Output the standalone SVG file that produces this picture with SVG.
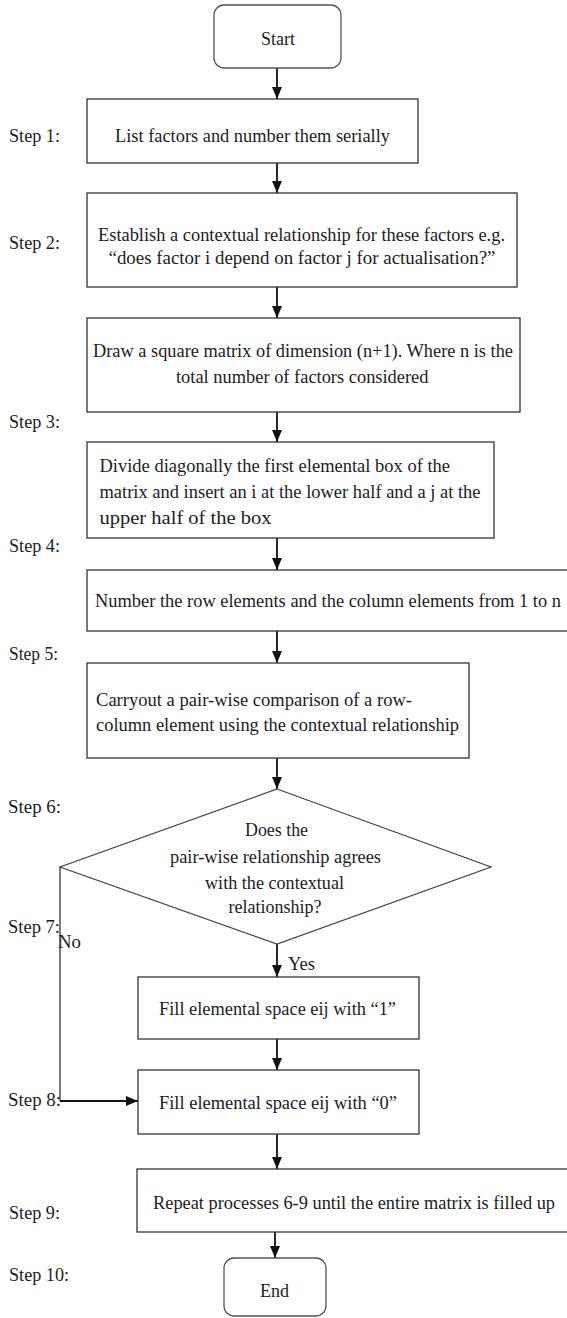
<svg xmlns="http://www.w3.org/2000/svg" width="567" height="1318" viewBox="0 0 567 1318">
  <defs>
    <marker id="arrow" viewBox="0 0 12 10" refX="12" refY="5" markerWidth="13" markerHeight="10" markerUnits="userSpaceOnUse" orient="auto">
      <path d="M0,0 L12,5 L0,10 z" fill="#111"/>
    </marker>
    <style>
      text { font-family: "Liberation Serif", "Times New Roman", serif; font-size: 19px; fill: #1c1c1c; }
      .box { fill: #fff; stroke: #333; stroke-width: 1.3; }
      .term { fill: #fff; stroke: #555; stroke-width: 1.3; }
      .dec { fill: #fff; stroke: #444; stroke-width: 1.2; }
      .flow { fill: none; stroke: #111; stroke-width: 1.8; marker-end: url(#arrow); }
      .branch { fill: none; stroke: #222; stroke-width: 1.2; }
    </style>
  </defs>
  <rect width="567" height="1318" fill="#fff"/>

  <!-- step labels on the left margin -->
  <g id="step-labels">
    <text x="9" y="142" textLength="51" lengthAdjust="spacingAndGlyphs">Step 1:</text>
    <text x="9" y="249" textLength="51" lengthAdjust="spacingAndGlyphs">Step 2:</text>
    <text x="9" y="428" textLength="51" lengthAdjust="spacingAndGlyphs">Step 3:</text>
    <text x="9" y="552" textLength="51" lengthAdjust="spacingAndGlyphs">Step 4:</text>
    <text x="9" y="660" textLength="49" lengthAdjust="spacingAndGlyphs">Step 5:</text>
    <text x="8" y="813" textLength="53" lengthAdjust="spacingAndGlyphs">Step 6:</text>
    <text x="8" y="933" textLength="52" lengthAdjust="spacingAndGlyphs">Step 7:</text>
    <text x="8" y="1106" textLength="53" lengthAdjust="spacingAndGlyphs">Step 8:</text>
    <text x="9" y="1219" textLength="51" lengthAdjust="spacingAndGlyphs">Step 9:</text>
    <text x="9" y="1281" textLength="60" lengthAdjust="spacingAndGlyphs">Step 10:</text>
  </g>

  <!-- connectors -->
  <g id="connectors">
    <line class="flow" x1="277" y1="68" x2="277" y2="99"/>
    <line class="flow" x1="277" y1="163" x2="277" y2="193"/>
    <line class="flow" x1="277" y1="287" x2="277" y2="318"/>
    <line class="flow" x1="277" y1="412" x2="277" y2="442"/>
    <line class="flow" x1="277" y1="538" x2="277" y2="570"/>
    <line class="flow" x1="277" y1="631" x2="277" y2="663"/>
    <line class="flow" x1="277" y1="758" x2="277" y2="789"/>
    <line class="flow" x1="277" y1="944" x2="277" y2="977"/>
    <line class="flow" x1="277" y1="1039" x2="277" y2="1070"/>
    <line class="flow" x1="277" y1="1134" x2="277" y2="1169"/>
    <line class="flow" x1="275" y1="1232" x2="275" y2="1258"/>
    <polyline class="branch" points="60,867 60,1101"/>
    <line class="flow" x1="60" y1="1101" x2="138" y2="1101"/>
    <text x="288" y="970" textLength="27" lengthAdjust="spacingAndGlyphs">Yes</text>
    <text x="58" y="948" textLength="23" lengthAdjust="spacingAndGlyphs">No</text>
  </g>

  <g id="start">
    <rect class="term" x="214" y="5" width="127" height="63" rx="10"/>
    <text x="261" y="45" textLength="34" lengthAdjust="spacingAndGlyphs">Start</text>
  </g>

  <g id="list-factors">
    <rect class="box" x="87" y="99" width="331" height="64"/>
    <text x="115" y="142" textLength="275" lengthAdjust="spacingAndGlyphs">List factors and number them serially</text>
  </g>

  <g id="contextual-relationship">
    <rect class="box" x="87" y="193" width="430" height="94"/>
    <text x="98" y="241" textLength="407" lengthAdjust="spacingAndGlyphs">Establish a contextual relationship for these factors e.g.</text>
    <text x="108.5" y="264" textLength="387" lengthAdjust="spacingAndGlyphs">“does factor i depend on factor j for actualisation?”</text>
  </g>

  <g id="square-matrix">
    <rect class="box" x="87" y="318" width="433" height="94"/>
    <text x="93" y="357" textLength="420" lengthAdjust="spacingAndGlyphs">Draw a square matrix of dimension (n+1). Where n is the</text>
    <text x="176" y="383" textLength="252.5" lengthAdjust="spacingAndGlyphs">total number of factors considered</text>
  </g>

  <g id="divide-box">
    <rect class="box" x="87" y="442" width="407" height="96"/>
    <text x="99.5" y="472" textLength="350.5" lengthAdjust="spacingAndGlyphs">Divide diagonally the first elemental box of the</text>
    <text x="99.5" y="498" textLength="381" lengthAdjust="spacingAndGlyphs">matrix and insert an i at the lower half and a j at the</text>
    <text x="99.5" y="524" textLength="172" lengthAdjust="spacingAndGlyphs">upper half of the box</text>
  </g>

  <g id="number-elements">
    <rect class="box" x="87" y="570" width="500" height="61"/>
    <text x="95" y="607" style="font-size:18px" textLength="466" lengthAdjust="spacingAndGlyphs">Number the row elements and the column elements from 1 to n</text>
  </g>

  <g id="pairwise-comparison">
    <rect class="box" x="87" y="663" width="382" height="95"/>
    <text x="96" y="706" textLength="316" lengthAdjust="spacingAndGlyphs">Carryout a pair-wise comparison of a row-</text>
    <text x="96" y="731" textLength="363" lengthAdjust="spacingAndGlyphs">column element using the contextual relationship</text>
  </g>

  <g id="decision">
    <polygon class="dec" points="277,789 491,867 277,944 60,867"/>
    <text x="245" y="836" textLength="63" lengthAdjust="spacingAndGlyphs">Does the</text>
    <text x="170" y="863" textLength="211" lengthAdjust="spacingAndGlyphs">pair-wise relationship agrees</text>
    <text x="205" y="889" textLength="139" lengthAdjust="spacingAndGlyphs">with the contextual</text>
    <text x="228.6" y="913" textLength="93" lengthAdjust="spacingAndGlyphs">relationship?</text>
  </g>

  <g id="fill-one">
    <rect class="box" x="138" y="977" width="281" height="62"/>
    <text x="159" y="1015" textLength="237" lengthAdjust="spacingAndGlyphs">Fill elemental space eij with “1”</text>
  </g>

  <g id="fill-zero">
    <rect class="box" x="138" y="1070" width="281" height="64"/>
    <text x="159" y="1109" textLength="238" lengthAdjust="spacingAndGlyphs">Fill elemental space eij with “0”</text>
  </g>

  <g id="repeat">
    <rect class="box" x="137" y="1169" width="450" height="63"/>
    <text x="153" y="1209" textLength="402" lengthAdjust="spacingAndGlyphs">Repeat processes 6-9 until the entire matrix is filled up</text>
  </g>

  <g id="end">
    <rect class="term" x="224" y="1258" width="102" height="58" rx="10"/>
    <text x="260" y="1297" textLength="29" lengthAdjust="spacingAndGlyphs">End</text>
  </g>
</svg>
